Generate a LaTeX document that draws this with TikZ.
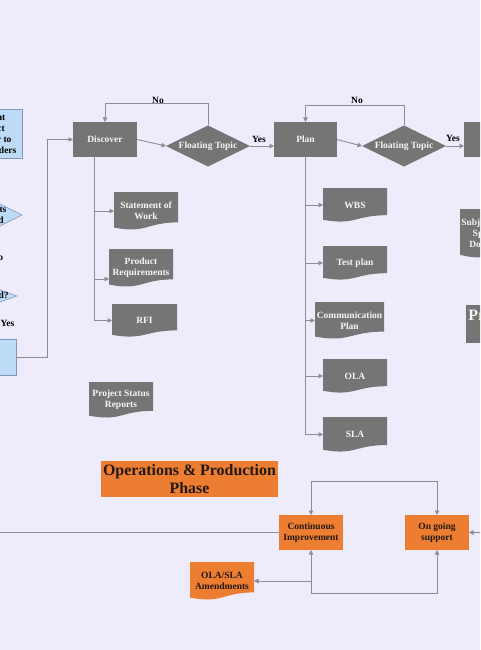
\documentclass[tikz,border=0pt]{standalone}
\usepackage{fontspec}
\setmainfont{Liberation Serif}
\usetikzlibrary{shapes.geometric,arrows.meta,calc}
\definecolor{bg}{RGB}{238,235,250}
\definecolor{gfill}{RGB}{118,117,117}
\definecolor{ofill}{RGB}{237,125,49}
\definecolor{bfill}{RGB}{189,218,246}
\definecolor{bline}{RGB}{130,150,185}
\definecolor{lcol}{RGB}{140,140,152}
\definecolor{dtext}{RGB}{35,25,20}
\definecolor{wtext}{RGB}{245,245,245}
\tikzset{
 fs/.style={font=\bfseries\fontsize{9.5}{11}\selectfont},
 bigfs/.style={font=\bfseries\fontsize{15.9}{18}\selectfont},
 base/.style={fs, align=center, inner sep=0pt, outer sep=0pt},
 gbox/.style={base, rectangle, fill=gfill, text=wtext},
 gdia/.style={base, diamond, aspect=2, fill=gfill, text=wtext},
 docshape/.style={path picture={
   \fill[#1] let \p1=(path picture bounding box.north west), \p2=(path picture bounding box.south east) in
   (\x1,\y1) -- (\x2,\y1) -- (\x2,{\y1+0.8*(\y2-\y1)})
   .. controls ({0.5*\x1+0.5*\x2},{\y1+0.8*(\y2-\y1)}) and ({0.5*\x1+0.5*\x2},{\y1+1.107*(\y2-\y1)}) ..
   (\x1,{\y1+0.934*(\y2-\y1)}) -- cycle;}},
 gdoc/.style={base, rectangle, docshape=gfill, text=wtext},
 obox/.style={base, rectangle, fill=ofill, text=dtext},
 odoc/.style={base, rectangle, docshape=ofill, text=dtext},
 lbox/.style={base, rectangle, fill=bfill, draw=bline, line width=0.6pt, text=black},
 ldia/.style={base, diamond, fill=bfill, draw=bline, line width=0.6pt},
 lab/.style={fs, inner sep=0pt, text=black},
 conn/.style={draw=lcol, line width=0.9pt},
 arr/.style={conn, -{Triangle[length=4.5pt,width=4.5pt]}},
 darr/.style={conn, {Triangle[length=4.5pt,width=4.5pt]}-{Triangle[length=4.5pt,width=4.5pt]}},
}
\begin{document}
\begin{tikzpicture}[x=1pt,y=-1pt]
\fill[bg] (0,0) rectangle (480,650);
\useasboundingbox (0,0) rectangle (480,650);
\clip (0,0) rectangle (480,650);

% left column (cropped)
\node[lbox, minimum width=64pt, minimum height=49pt] (lb1) at (-10,133.5) {Present\\Project\\Charter to\\Stakeholders};
\node[ldia, minimum width=88pt, minimum height=44pt] (ld1) at (-22,215) {};
\node[lab, align=center] (ld1t) at (ld1.center) {Requirements\\Documented};
\node[lab] (no0) at (-2.8,257) {No};
\node[ldia, minimum width=62pt, minimum height=22pt] (ld2) at (-14,296) {};
\node[lab] (ld2t) at (ld2.center) {Approved?};
\node[lab] (yes0) at (7.4,323) {Yes};
\node[lbox, minimum width=64pt, minimum height=36pt] (lb2) at (-16,357) {};

% discover phase
\node[gbox, minimum width=64pt, minimum height=35pt] (disc) at (105,139.5) {Discover};
\node[gdia, minimum width=84pt, minimum height=41pt] (ft1) at (208,146) {Floating Topic};
\node[gbox, minimum width=63pt, minimum height=35pt] (plan) at (305.5,139.5) {Plan};
\node[gdia, minimum width=84pt, minimum height=41pt] (ft2) at (404,146) {Floating Topic};
\node[gbox, minimum width=64pt, minimum height=35pt] (exe) at (496,139.5) {};

\node[gdoc, minimum width=64pt, minimum height=38pt] (sow) at (146,211) {Statement of\\Work};
\node[gdoc, minimum width=64pt, minimum height=38pt] (prq) at (141,268) {Product\\Requirements};
\node[gdoc, minimum width=65pt, minimum height=33pt] (rfi) at (144.5,320.5) {RFI};
\node[gdoc, minimum width=64pt, minimum height=36pt] (psr) at (121,400) {Project Status\\Reports};

\node[gdoc, minimum width=64pt, minimum height=34pt] (wbs) at (355,205) {WBS};
\node[gdoc, minimum width=64pt, minimum height=34pt] (tp) at (355,263) {Test plan};
\node[gdoc, minimum width=69pt, minimum height=37pt] (cp) at (349.5,320.5) {Communication\\Plan};
\node[gdoc, minimum width=64pt, minimum height=34pt] (ola) at (355,376) {OLA};
\node[gdoc, minimum width=64pt, minimum height=35pt] (sla) at (355,434.5) {SLA};

\node[gdoc, minimum width=64pt, minimum height=49pt] (smd) at (492,233.5) {Subject Matter\\Specialist\\Documents};
\node[gbox, bigfs, minimum width=119pt, minimum height=38pt] (pph) at (525.5,324) {Project Planning\\Phase};

% operations phase
\node[obox, bigfs, minimum width=177pt, minimum height=36pt] (opb) at (189.5,479) {Operations \& Production\\Phase};
\node[obox, minimum width=64pt, minimum height=35pt] (ci) at (311,532.5) {Continuous\\Improvement};
\node[obox, minimum width=64pt, minimum height=35pt] (os) at (437,532.5) {On going\\support};
\node[odoc, minimum width=64pt, minimum height=38pt] (amd) at (222,581) {OLA/SLA\\Amendments};

% labels
\node[lab] (no1) at (158,100) {No};
\node[lab] (no2) at (357,100) {No};
\node[lab] (yes1) at (259,139) {Yes};
\node[lab] (yes2) at (453,138) {Yes};

% connectors
\coordinate (j1) at (47,357);
\draw[arr] (lb2.east) -- (j1) |- (disc.west);
\draw[arr] (disc.east) -- (ft1.west);
\draw[arr] (ft1.north) -- ++(0,-22) -| (disc.north);
\draw[arr] (ft1.east) -- (ft1.east -| plan.west);
\draw[arr] (plan.east) -- (ft2.west);
\draw[arr] (ft2.north) -- ++(0,-20) -| (plan.north);
\draw[arr] (ft2.east) -- (ft2.east -| exe.west);

\coordinate (dt) at (94,320.5);
\draw[conn] (disc.south -| dt) -- (dt);
\draw[arr] (dt |- sow.west) -- (sow.west);
\path ([yshift=-11pt]prq.west) coordinate (prqin);
\draw[arr] (dt |- prqin) -- (prqin);
\draw[arr] (dt) -- (rfi.west);

\coordinate (pt) at (305.5,434.5);
\draw[conn] (plan.south) -- (pt);
\draw[arr] (pt |- wbs.west) -- (wbs.west);
\draw[arr] (pt |- tp.west) -- (tp.west);
\draw[arr] (pt |- cp.west) -- (cp.west);
\draw[arr] (pt |- ola.west) -- (ola.west);
\draw[arr] (pt) -- (sla.west);

\coordinate (lft) at (-5,532.5);
\coordinate (rgt) at (490,532.5);
\draw[conn] (lft) -- (ci.west);
\draw[arr] (rgt) -- (os.east);
\draw[darr] (ci.north) -- ++(0,-34) -| (os.north);
\draw[darr] (ci.south) -- ++(0,43) -| (os.south);
\draw[arr] (ci.south |- amd.east) -- (amd.east);
\end{tikzpicture}
\end{document}
